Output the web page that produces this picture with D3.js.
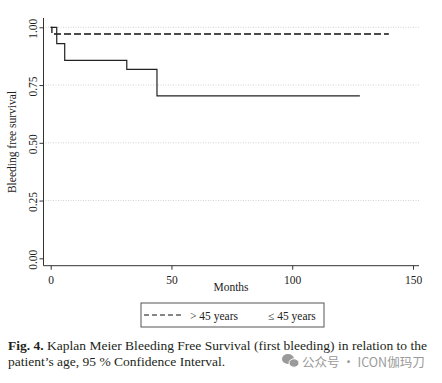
<!DOCTYPE html>
<html><head><meta charset="utf-8">
<script src="https://cdn.jsdelivr.net/npm/d3@7"></script>
<style>body{margin:0;background:#fff}svg{display:block}</style>
</head><body>
<script>
// Data
const olderTimes = [0, 0.5, 140];
const olderSurv  = [1, 0.971, 0.971];
const youngerTimes = [0, 2.5, 5.8, 31.5, 44, 128];
const youngerSurv  = [1, 0.929, 0.857, 0.818, 0.703, 0.703];
const xTicks = [0, 50, 100, 150];
const yTicks = [0, 0.25, 0.5, 0.75, 1];
const legendLabels = ["> 45 years", "\u2264 45 years"];

const W = 442, H = 383;
const svg = d3.select("body").append("svg").attr("width", W).attr("height", H);
const serif = "'Liberation Serif','DejaVu Serif',serif";

const x = d3.scaleLinear().domain([0, 150]).range([50.7, 413]);
const y = d3.scaleLinear().domain([0, 1]).range([258.3, 27.3]);
const axisX0 = 43.5, axisY0 = 265.7, plotRight = 419;

// gridlines
svg.append("g").selectAll("line").data(yTicks.filter(d => d > 0)).join("line")
  .attr("x1", axisX0 + 2).attr("x2", plotRight)
  .attr("y1", d => y(d)).attr("y2", d => y(d))
  .attr("stroke", "#c8c8c8").attr("stroke-width", 0.8).attr("stroke-dasharray", "1,1.5");

// axes
const gx = svg.append("g").attr("transform", `translate(0,${axisY0})`)
  .call(d3.axisBottom(x).tickValues(xTicks).tickFormat(d3.format("d")).tickSize(4).tickPadding(4));
gx.select(".domain").attr("d", `M${axisX0},0H${plotRight}`);
const gy = svg.append("g").attr("transform", `translate(${axisX0},0)`)
  .call(d3.axisLeft(y).tickValues(yTicks).tickFormat(d3.format(".2f")).tickSize(4).tickPadding(3));
gy.select(".domain").attr("d", `M0,18V${axisY0}`);
[gx, gy].forEach(g => {
  g.selectAll("path,line").attr("stroke", "#333").attr("stroke-width", 1);
  g.selectAll("text").attr("font-family", serif).attr("font-size", 11.5).attr("fill", "#222");
});
gx.selectAll("text").attr("dy", "0.9em");
gy.selectAll(".tick text")
  .attr("transform", function() { return "rotate(-90," + this.getAttribute("x") + ",0)"; })
  .attr("text-anchor", "middle").attr("dy", "0");
gy.selectAll(".tick text").attr("x", -8);

// axis titles
svg.append("text").attr("x", 231).attr("y", 291).attr("text-anchor", "middle")
  .attr("font-family", serif).attr("font-size", 11.5).attr("fill", "#222").text("Months");
svg.append("text").attr("transform", "translate(16,142) rotate(-90)").attr("text-anchor", "middle")
  .attr("font-family", serif).attr("font-size", 11.5).attr("fill", "#222").text("Bleeding free survival");

// curves
const line = d3.line().x(d => x(d[0])).y(d => y(d[1])).curve(d3.curveStepAfter);
svg.append("path").datum(olderTimes.map((t, i) => [t, olderSurv[i]]))
  .attr("d", line).attr("fill", "none").attr("stroke", "#111").attr("stroke-width", 1.3)
  .attr("stroke-dasharray", "7,3");
svg.append("path").datum(youngerTimes.map((t, i) => [t, youngerSurv[i]]))
  .attr("d", line).attr("fill", "none").attr("stroke", "#222").attr("stroke-width", 1.2);

// legend
const lg = svg.append("g");
lg.append("rect").attr("x", 141).attr("y", 303).attr("width", 183).attr("height", 24)
  .attr("fill", "#fff").attr("stroke", "#555").attr("stroke-width", 1);
lg.append("line").attr("x1", 144).attr("x2", 184).attr("y1", 315).attr("y2", 315)
  .attr("stroke", "#111").attr("stroke-width", 1.2).attr("stroke-dasharray", "5,3");
lg.append("text").attr("x", 190).attr("y", 319.5).attr("font-family", serif).attr("font-size", 11.5)
  .attr("fill", "#222").text(legendLabels[0]);
lg.append("text").attr("x", 268).attr("y", 319.5).attr("font-family", serif).attr("font-size", 11.5)
  .attr("fill", "#222").text(legendLabels[1]);

// caption
const cap = svg.append("text").attr("x", 8).attr("y", 350).attr("font-family", serif)
  .attr("font-size", 13.5).attr("fill", "#231f20").attr("textLength", 419).attr("lengthAdjust", "spacing");
cap.append("tspan").attr("font-weight", "bold").text("Fig. 4.");
cap.append("tspan").text(" Kaplan Meier Bleeding Free Survival (first bleeding) in relation to the");
svg.append("text").attr("x", 8).attr("y", 366).attr("font-family", serif)
  .attr("font-size", 13.5).attr("fill", "#231f20").text("patient\u2019s age, 95 % Confidence Interval.");

// watermark
const wm = svg.append("g").attr("fill", "#9a9a9a");
wm.append("ellipse").attr("cx", 288).attr("cy", 359).attr("rx", 6).attr("ry", 5);
wm.append("ellipse").attr("cx", 294).attr("cy", 363).attr("rx", 5).attr("ry", 4.2).attr("stroke", "#fff").attr("stroke-width", 1);
svg.append("text").attr("x", 302).attr("y", 367).attr("font-family", "'Noto Sans CJK SC','Noto Sans',sans-serif")
  .attr("font-size", 12.5).attr("fill", "#9a9a9a").text("公众号 · ICON伽玛刀");
</script>
</body></html>
